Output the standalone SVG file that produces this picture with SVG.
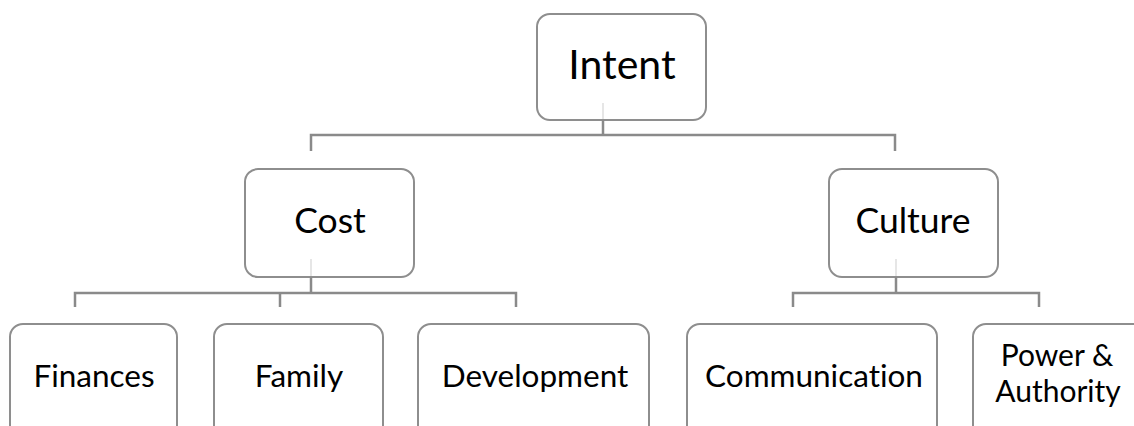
<svg xmlns="http://www.w3.org/2000/svg" width="1134" height="426" viewBox="0 0 1134 426">
<style>
.box{fill:#ffffff;stroke:#8e8e8e;stroke-width:2}
.lbl{font-family:Lato,"Open Sans","Liberation Sans",sans-serif;fill:#000000;text-anchor:middle;font-variant-ligatures:none}
.big{font-size:41px}
.mid{font-size:35.5px}
.sm{font-size:31.5px}
.xs{font-size:30px}
.ln{fill:none;stroke:#8a8a8a;stroke-width:2.5}
.fx{fill:none;stroke:#e6e6e6;stroke-width:2}
</style>
<rect width="1134" height="426" fill="#ffffff"/>
<g id="intent"><rect class="box" x="537" y="14" width="169" height="106" rx="13"/><text class="lbl big" x="622" y="79">Intent</text></g>
<g id="cost"><rect class="box" x="245" y="169" width="169" height="108" rx="13"/><text class="lbl mid" x="330" y="233">Cost</text></g>
<g id="culture"><rect class="box" x="829" y="169" width="169" height="108" rx="13"/><text class="lbl mid" x="913" y="233">Culture</text></g>
<g id="finances"><rect class="box" x="10" y="324" width="167" height="130" rx="13"/><text class="lbl sm" x="94" y="387">Finances</text></g>
<g id="family"><rect class="box" x="214" y="324" width="169" height="130" rx="13"/><text class="lbl sm" x="299" y="387">Family</text></g>
<g id="development"><rect class="box" x="418" y="324" width="231" height="130" rx="13"/><text class="lbl sm" x="535" y="387">Development</text></g>
<g id="communication"><rect class="box" x="687" y="324" width="250" height="130" rx="13"/><text class="lbl sm" x="814" y="387">Communication</text></g>
<g id="power"><rect class="box" x="973" y="324" width="200" height="130" rx="13"/><text class="lbl xs" x="1057" y="366">Power &amp;</text><text class="lbl xs" x="1058" y="402">Authority</text></g>
<g id="connectors">
<path class="fx" d="M603 103V119M311 259V276M896 259V276"/>
<path class="ln" d="M603 120V135M311 151V135H895V151"/>
<path class="ln" d="M311 277V293M75 307V293H516V307M280 293V307"/>
<path class="ln" d="M896 277V293M793 307V293H1039V307"/>
</g>
</svg>
